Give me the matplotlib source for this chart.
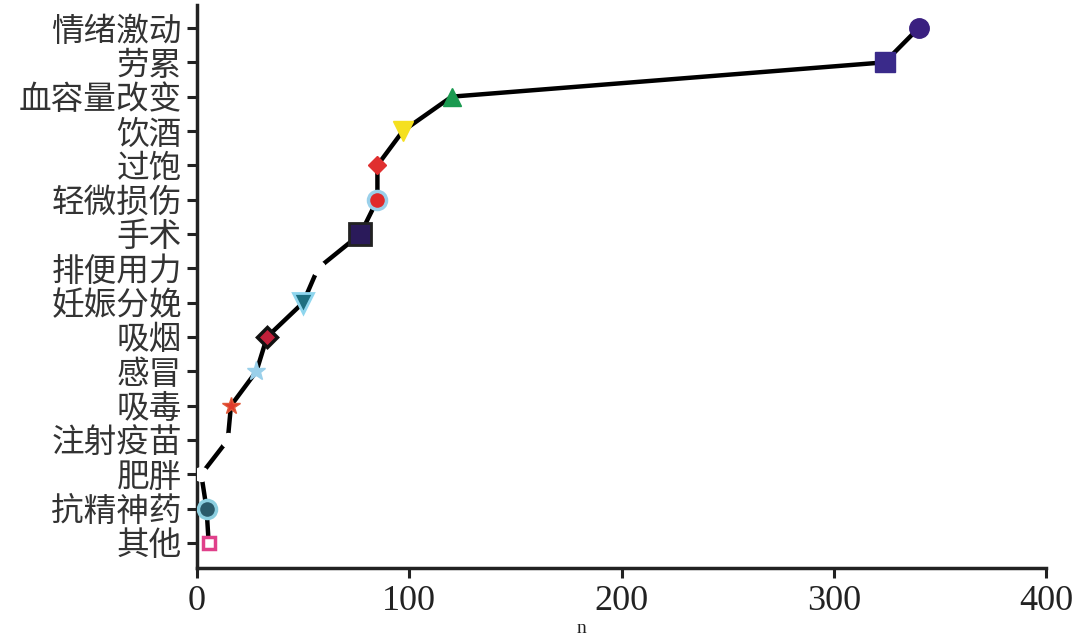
import matplotlib
matplotlib.use("Agg")
import matplotlib.pyplot as plt

categories = ["其他", "抗精神药", "肥胖", "注射疫苗", "吸毒", "感冒", "吸烟", "妊娠分娩",
              "排便用力", "手术", "轻微损伤", "过饱", "饮酒", "血容量改变", "劳累", "情绪激动"]
values = [5.5, 4.5, 2, 14.5, 16, 28, 33, 50, 57, 77, 85, 85, 97, 120, 324, 340]
markers = ["s", "o", "o", "o", "*", "*", "D", "v", "o", "s", "o", "D", "v", "^", "s", "o"]
face = ["white", "#2a5a6a", "white", "white", "#e03a2a", "#9ad0ea", "#c0203a", "#1e6f80",
        "white", "#2a1a5a", "#e02a2a", "#e03030", "#f5e020", "#1a9a50", "#3a2a8a", "#3a2080"]
edge = ["#e0408a", "#8ccfe0", "white", "white", "#e05a3a", "#9ad0ea", "#111111", "#8fd6ee",
        "white", "#222222", "#9ad0ea", "#e03030", "#f5e020", "#1a9a50", "#3a2a8a", "#3a2080"]
msize = [9, 13, 11, 11, 13, 14, 10, 14, 11, 16, 13, 9, 14, 13, 15, 14]
medge = [2.5, 2.5, 0, 0, 1, 1, 2.5, 2, 0, 2, 2.5, 1, 1, 1, 1, 1]

fig = plt.figure(figsize=(10.8, 6.38), dpi=100)
ax = fig.add_axes([197/1080, 1-568/638, (1046-197)/1080, (568-5)/638])

ypos = list(range(len(categories)))
ax.plot(values, ypos, color="black", lw=3.2, zorder=2, solid_capstyle="round")
for x, y, m, fc, ec, ms, mew in zip(values, ypos, markers, face, edge, msize, medge):
    ax.plot([x], [y], marker=m, ms=ms, mfc=fc, mec=ec, mew=mew, ls="none", zorder=3)

ax.set_xlim(0, 400)
ax.set_ylim(-0.73, 15.67)
ax.set_yticks(ypos)
ax.set_yticklabels(categories, fontfamily=["Noto Sans CJK SC"], fontsize=23.5, color="#333333")
ax.set_xticks([0, 100, 200, 300, 400])
ax.set_xticklabels(["0", "100", "200", "300", "400"], fontfamily=["Liberation Serif"], fontsize=26, color="#222222")
for s in ["top", "right"]:
    ax.spines[s].set_visible(False)
for s in ["left", "bottom"]:
    ax.spines[s].set_linewidth(2.5)
    ax.spines[s].set_color("#222222")
ax.tick_params(axis="both", direction="out", length=7, width=2.2, color="#222222")
ax.tick_params(axis="y", pad=4)
ax.tick_params(axis="x", pad=5)

fig.text(581/1080, 1/638, "n", fontfamily="Liberation Serif", fontsize=14, ha="center", va="bottom", color="#222222")

fig.savefig("out.png", dpi=100, facecolor="white")
